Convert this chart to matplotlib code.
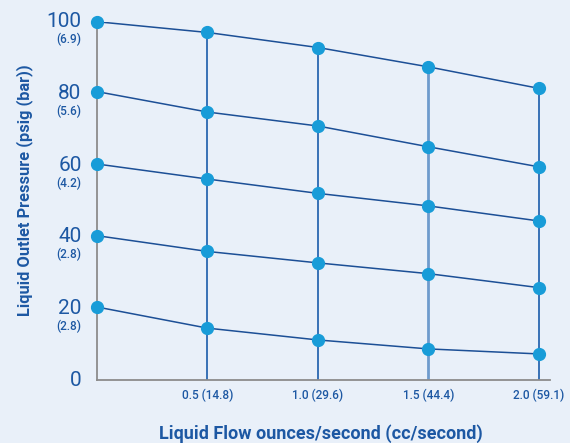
import numpy as np
import matplotlib.pyplot as plt

# flow (oz/s) and pressure curves
flow = [0.0, 0.5, 1.0, 1.5, 2.0]
p100 = [100.0, 97.0, 92.8, 87.4, 81.4]
p80 = [80.5, 74.8, 70.9, 65.1, 59.5]
p60 = [60.3, 56.1, 52.1, 48.6, 44.4]
p40 = [40.3, 35.9, 32.7, 29.7, 25.8]
p20 = [20.4, 14.5, 11.2, 8.7, 7.3]
curves = [p100, p80, p60, p40, p20]

xtick_vals = [0.5, 1.0, 1.5, 2.0]
xtick_labels = ["0.5 (14.8)", "1.0 (29.6)", "1.5 (44.4)", "2.0 (59.1)"]
ytick_vals = [100, 80, 60, 40, 20, 0]
ytick_bar = ["(6.9)", "(5.6)", "(4.2)", "(2.8)", "(2.8)", ""]

bg = "#e9f0f9"
txt = "#1d58a3"
line_c = "#1c4f96"
dot_c = "#189cd8"

plt.rcParams['font.family'] = ['Roboto', 'DejaVu Sans']

fig = plt.figure(figsize=(5.7, 4.43), dpi=100)
fig.patch.set_facecolor(bg)
ax = fig.add_axes([0.170, 0.142, 0.795, 0.809])
ax.set_facecolor(bg)

ax.set_xlim(0, 2.05)
ax.set_ylim(0, 100)

# vertical lines from axis up to the top curve
for i, xv in enumerate(flow[1:], start=1):
    top = max(c[i] for c in curves)
    if xv == 1.5:
        ax.plot([xv, xv], [0, top], color="#6e9bcd", lw=2.0, zorder=1)
    else:
        ax.plot([xv, xv], [0, top], color="#2a67b0", lw=1.3, zorder=1)

for c in curves:
    ax.plot(flow, c, color=line_c, lw=1.1, zorder=2)
    ax.plot(flow, c, 'o', color=dot_c, ms=8.5, mec=dot_c, zorder=3, clip_on=False)

for s in ["top", "right"]:
    ax.spines[s].set_visible(False)
ax.spines["left"].set_color("#8c8c8c")
ax.spines["bottom"].set_color("#8c8c8c")
ax.spines["left"].set_linewidth(1.3)
ax.spines["bottom"].set_linewidth(1.3)
ax.spines["left"].set_zorder(1)

ax.set_xticks([])
ax.set_yticks([])

# y tick labels: psig with bar below
for v, b in zip(ytick_vals, ytick_bar):
    ax.annotate(str(v), xy=(0, v), xycoords="data", xytext=(-11, 0),
                textcoords="offset points", ha="right", va="center",
                fontsize=15, color=txt)
    if b:
        ax.annotate(b, xy=(0, v), xycoords="data", xytext=(-11, -13),
                    textcoords="offset points", ha="right", va="center",
                    fontsize=8.5, color=txt, fontweight="medium")

for v, lab in zip(xtick_vals, xtick_labels):
    ax.annotate(lab, xy=(v, 0), xycoords="data", xytext=(0, -11),
                textcoords="offset points", ha="center", va="center",
                fontsize=8.5, color=txt, fontweight="medium")

fig.text(321 / 570, 1 - 434 / 443, "Liquid Flow ounces/second (cc/second)",
         ha="center", va="center", fontsize=13, fontweight="bold", color=txt)
fig.text(25 / 570, 1 - 190 / 443, "Liquid Outlet Pressure (psig (bar))",
         ha="center", va="center", fontsize=11.8, fontweight="bold",
         color=txt, rotation=90)

plt.savefig("out.png", dpi=100, facecolor=bg)
plt.close()
